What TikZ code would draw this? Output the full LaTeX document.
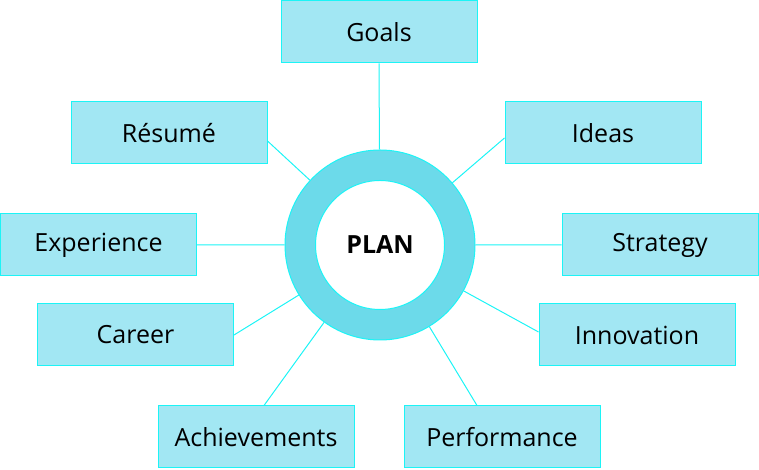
\documentclass[tikz,border=0pt]{standalone}
\usepackage{fontspec}
\setmainfont{Open Sans}
\usetikzlibrary{positioning}
\definecolor{boxfill}{HTML}{A2E7F3}
\definecolor{ringfill}{HTML}{6CDAEA}
\definecolor{edgecyan}{HTML}{1CF4F6}
\tikzset{
  topic/.style={draw=edgecyan,fill=boxfill,line width=1pt,minimum width=196pt,
    minimum height=62pt,inner sep=0pt,font=\fontsize{25}{30}\selectfont},
  link/.style={draw=edgecyan,line width=1pt},
}

\begin{document}
\begin{tikzpicture}[x=1pt,y=1pt]
  \useasboundingbox (0,0) rectangle (759,470);
  % centre ring
  \node[circle,draw=edgecyan,fill=ringfill,line width=1pt,minimum size=190pt] (ring) at (380,225) {};
  \node[circle,draw=edgecyan,fill=white,line width=1pt,minimum size=129pt,
    font=\bfseries\fontsize{25}{30}\selectfont] (plan) at (ring) {PLAN};
  % topics
  \node[topic] (goals) at (379,438) {Goals};
  \node[topic] (resume) at (169,337) {Résumé};
  \node[topic] (ideas) at (603,337) {Ideas};
  \node[topic] (exper) at (98.5,225) {Experience};
  \node[topic] (strat) at (660,225) {Strategy};
  \node[topic] (career) at (135.5,135) {Career};
  \node[topic] (innov) at (637,135) {Innovation};
  \node[topic] (achiev) at (256,33) {Achievements};
  \node[topic] (perf) at (502,33) {Performance};
  % spokes
  \path[link] (goals.south) -- (ring)
              ([yshift=-8pt]resume.east) -- (ring)
              ([yshift=-5pt]ideas.west) -- (ring)
              (exper.east) -- (ring)
              (strat.west) -- (ring)
              (career.east) -- (ring)
              ([yshift=3pt]innov.west) -- (ring)
              ([xshift=8pt]achiev.north) -- (ring)
              ([xshift=-25pt]perf.north) -- (ring);
\end{tikzpicture}
\end{document}
